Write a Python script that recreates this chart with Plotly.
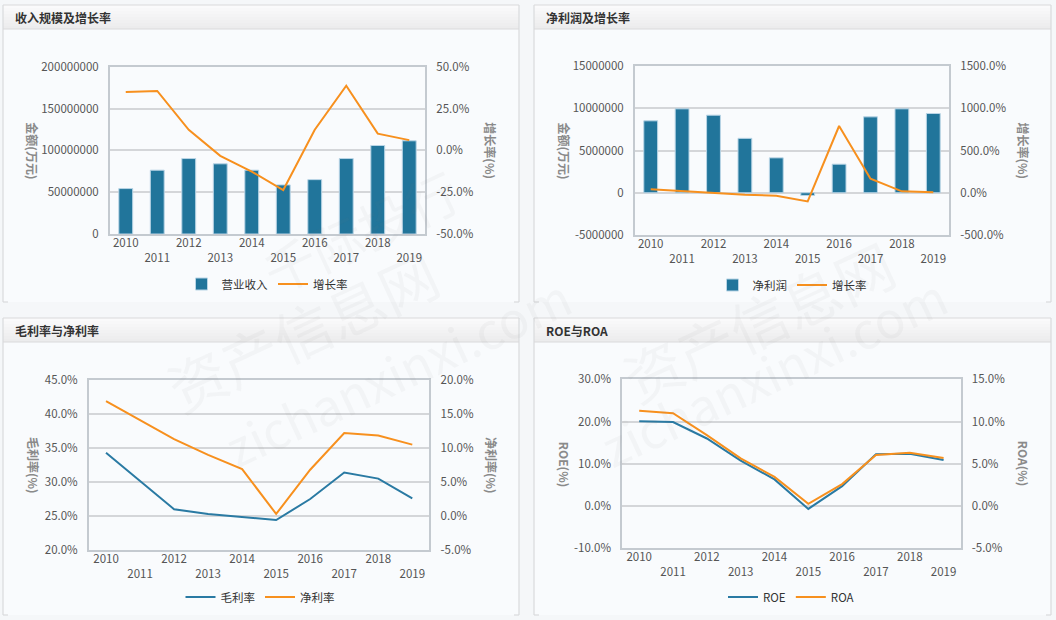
import plotly.graph_objects as go

years = [2010, 2011, 2012, 2013, 2014, 2015, 2016, 2017, 2018, 2019]
odd_years = [y for y in years if y % 2 == 1]
year_text = [str(y) if y % 2 == 0 else "<br>" + str(y) for y in years]

revenue = [54300000, 76300000, 90200000, 83900000, 76300000, 58700000, 65000000, 90200000, 105800000, 111400000]
revenue_growth = [34.9, 35.5, 12.3, -3.3, -12.7, -23.7, 12.3, 38.6, 10.0, 6.1]

net_profit = [8510000, 9930000, 9180000, 6440000, 4130000, -320000, 3380000, 8980000, 9930000, 9380000]
profit_growth = [40, 20, -4, -24, -35, -103, 790, 167, 17, 5]

gross_margin = [34.3, 30.2, 26.0, 25.3, 24.9, 24.4, 27.5, 31.4, 30.5, 27.6]
net_margin = [16.9, 14.1, 11.3, 9.0, 6.9, 0.3, 6.8, 12.2, 11.85, 10.5]

roe = [20.1, 19.9, 16.0, 10.75, 6.3, -0.7, 4.7, 12.25, 12.4, 10.9]
roa = [11.3, 11.0, 8.4, 5.65, 3.45, 0.25, 2.6, 6.05, 6.3, 5.7]

# axis tick values (left / right) per panel
left_ticks = [
    [0, 50000000, 100000000, 150000000, 200000000],
    [-5000000, 0, 5000000, 10000000, 15000000],
    [20, 25, 30, 35, 40, 45],
    [-10, 0, 10, 20, 30],
]
right_ticks = [
    [-50, -25, 0, 25, 50],
    [-500, 0, 500, 1000, 1500],
    [-5, 0, 5, 10, 15, 20],
    [-5, 0, 5, 10, 15],
]
left_is_pct = [False, False, True, True]

titles = ["收入规模及增长率", "净利润及增长率", "毛利率与净利率", "ROE与ROA"]
left_titles = ["金额(万元)", "金额(万元)", "毛利率(%)", "ROE(%)"]
right_titles = ["增长率(%)", "增长率(%)", "净利率(%)", "ROA(%)"]

W, H = 1056, 620
BLUE = "#21759b"
ORANGE = "#f7901e"
FONT = "Noto Sans CJK SC"
TICKC = "#555555"
GRID = "#d4d6d9"
AXL = "#c4cad0"

def px(x):
    return x / W

def py(y):
    return 1 - y / H

def fmt_pct(v):
    return "%.1f%%" % v

def fmt_int(v):
    return "%d" % v

fig = go.Figure()

panels = [
    dict(box=(3, 519, 5, 302), plot=(110, 425, 66.7, 234)),
    dict(box=(534, 1051, 5, 302), plot=(635, 949, 66, 235)),
    dict(box=(3, 519, 318, 615), plot=(89, 429.3, 380, 550)),
    dict(box=(534, 1051, 318, 615), plot=(622.3, 960.5, 379.4, 548.2)),
]

shapes = []
annotations = []
for i, p in enumerate(panels):
    x0, x1, y0, y1 = p["box"]
    shapes.append(dict(type="rect", xref="paper", yref="paper", x0=px(x0), x1=px(x1), y0=py(y1), y1=py(y0),
                       fillcolor="#f9fbfd", line=dict(width=0), layer="below"))
    n = 8
    for k in range(n):
        t0 = y0 + (24 * k) / n
        t1 = y0 + (24 * (k + 1)) / n
        c = int(250 - 14 * k / (n - 1))
        shapes.append(dict(type="rect", xref="paper", yref="paper", x0=px(x0), x1=px(x1), y0=py(t1), y1=py(t0),
                           fillcolor="rgb(%d,%d,%d)" % (c, c, min(c + 1, 255)), line=dict(width=0), layer="below"))
    bc = "#d9dadc"
    lw = 1.2
    for seg in [((x0, y0), (x1, y0)), ((x0, y0), (x0, y1)), ((x1, y0), (x1, y1)), ((x0, y0 + 24), (x1, y0 + 24)),
                ((x0, y1), (x0 + 5, y1)), ((x1 - 5, y1), (x1, y1))]:
        (a, b), (c2, d) = seg
        shapes.append(dict(type="line", xref="paper", yref="paper", x0=px(a), y0=py(b), x1=px(c2), y1=py(d),
                           line=dict(color=bc, width=lw), layer="below"))
    annotations.append(dict(text="<b>%s</b>" % titles[i], xref="paper", yref="paper", x=px(x0 + 10), y=py(y0 + 12),
                            xanchor="left", yanchor="middle", showarrow=False,
                            font=dict(family=FONT, size=12, color="#333333")))

fig.add_trace(go.Bar(x=years, y=revenue, name="营业收入", marker=dict(color=BLUE, line=dict(color="#b9d5e6", width=1)),
                     width=0.44, xaxis="x", yaxis="y", legend="legend"))
fig.add_trace(go.Scatter(x=years, y=revenue_growth, name="增长率", mode="lines", line=dict(color=ORANGE, width=2),
                         xaxis="x", yaxis="y2", legend="legend"))
fig.add_trace(go.Bar(x=years, y=net_profit, name="净利润", marker=dict(color=BLUE, line=dict(color="#b9d5e6", width=1)),
                     width=0.44, xaxis="x3", yaxis="y3", legend="legend2"))
fig.add_trace(go.Scatter(x=years, y=profit_growth, name="增长率", mode="lines", line=dict(color=ORANGE, width=2),
                         xaxis="x3", yaxis="y4", legend="legend2"))
fig.add_trace(go.Scatter(x=years, y=gross_margin, name="毛利率", mode="lines", line=dict(color="#2a7aa3", width=2),
                         xaxis="x5", yaxis="y5", legend="legend3"))
fig.add_trace(go.Scatter(x=years, y=net_margin, name="净利率", mode="lines", line=dict(color=ORANGE, width=2),
                         xaxis="x5", yaxis="y6", legend="legend3"))
fig.add_trace(go.Scatter(x=years, y=roe, name="ROE", mode="lines", line=dict(color="#2a7aa3", width=2),
                         xaxis="x7", yaxis="y7", legend="legend4"))
fig.add_trace(go.Scatter(x=years, y=roa, name="ROA", mode="lines", line=dict(color=ORANGE, width=2),
                         xaxis="x7", yaxis="y8", legend="legend4"))

tickfont = dict(family=FONT, size=11.5, color=TICKC)

layout = {}
legend_pos = [(267, 284), (792, 285), (260, 597), (791, 597)]
for i, p in enumerate(panels):
    l, r, t, b = p["plot"]
    xa = 2 * i + 1
    xb = 2 * i + 2
    ya = 2 * i + 1
    yb = 2 * i + 2
    xname = "xaxis" if xa == 1 else "xaxis%d" % xa
    yname = "yaxis" if ya == 1 else "yaxis%d" % ya
    xref_a = "x" if xa == 1 else "x%d" % xa
    yref_a = "y" if ya == 1 else "y%d" % ya
    lt = left_ticks[i]
    rt = right_ticks[i]
    lfmt = fmt_pct if left_is_pct[i] else fmt_int
    layout[xname] = dict(domain=[px(l), px(r)], anchor=yref_a, range=[2009.5, 2019.5], tickvals=years,
                         ticktext=year_text, showgrid=False, zeroline=False, showline=True, linecolor=AXL,
                         linewidth=2, mirror=True, ticks="", tickfont=tickfont, ticklabelstandoff=-3,
                         automargin=False)
    layout["xaxis%d" % xb] = dict(domain=[px(l), px(r)], anchor=yref_a, overlaying=xref_a, range=[2009.5, 2019.5],
                                  tickvals=odd_years, showticklabels=False, ticks="outside", ticklen=5,
                                  tickcolor="#cdd2d7", tickwidth=1, showgrid=False, zeroline=False, showline=False,
                                  automargin=False)
    layout[yname] = dict(domain=[py(b), py(t)], anchor=xref_a, range=[lt[0], lt[-1]], tickvals=lt,
                         ticktext=[lfmt(v) for v in lt], showgrid=True, gridcolor=GRID, gridwidth=2,
                         zeroline=False, showline=True, linecolor=AXL, linewidth=2, ticks="",
                         tickfont=tickfont, ticklabelstandoff=7, automargin=False)
    layout["yaxis%d" % yb] = dict(domain=[py(b), py(t)], anchor=xref_a, overlaying=yref_a, side="right",
                                  range=[rt[0], rt[-1]], tickvals=rt, ticktext=[fmt_pct(v) for v in rt],
                                  showgrid=False, zeroline=False, showline=True, linecolor=AXL, linewidth=2,
                                  ticks="", tickfont=tickfont, ticklabelstandoff=7, automargin=False)
    lname = "legend" if i == 0 else "legend%d" % (i + 1)
    lx, ly = legend_pos[i]
    layout[lname] = dict(orientation="h", x=px(lx), y=py(ly), xanchor="center", yanchor="middle",
                         bgcolor="rgba(0,0,0,0)", font=dict(family=FONT, size=11.5, color="#333333"),
                         itemwidth=30, tracegroupgap=0)
    mid = (t + b) / 2
    lt_x = [33, 564, 34, 564][i]
    rt_x = [491, 1023, 492, 1023][i]
    for txt, xx in [(left_titles[i], lt_x), (right_titles[i], rt_x)]:
        annotations.append(dict(text="<b>%s</b>" % txt, xref="paper", yref="paper", x=px(xx), y=py(mid),
                                xanchor="center", yanchor="middle", textangle=90, showarrow=False,
                                font=dict(family=FONT, size=12, color="#8a8a8a")))

wm = [("资产信息网", 150, 330, 58), ("zichanxinxi.com", 210, 370, 50), ("资产信息网", 910, 320, 58),
      ("zichanxinxi.com", 960, 370, 50), ("千际投行", 360, 230, 52)]
for txt, xx, yy, sz in wm:
    annotations.append(dict(text=txt, xref="paper", yref="paper", x=px(xx), y=py(yy), showarrow=False,
                            textangle=-25, font=dict(family=FONT, size=sz, color="rgba(120,120,120,0.05)")))

fig.update_layout(
    width=W, height=H, margin=dict(l=0, r=0, t=0, b=0, autoexpand=False),
    paper_bgcolor="#f5f7f9", plot_bgcolor="rgba(0,0,0,0)",
    shapes=shapes, annotations=annotations, showlegend=True, bargap=0.5,
    font=dict(family=FONT, size=12, color=TICKC),
    **layout,
)

fig.write_html("out.html")
